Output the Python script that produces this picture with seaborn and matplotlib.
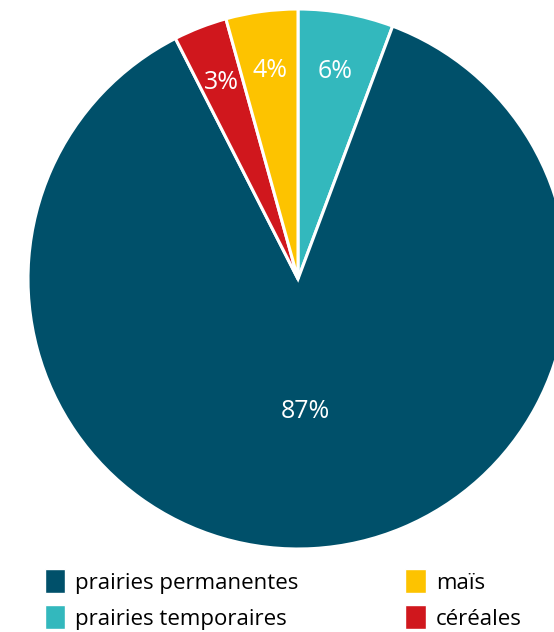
import matplotlib.pyplot as plt
import seaborn as sns
from matplotlib.patches import Patch

sns.set_theme(style="white")
plt.rcParams['font.family'] = ['Open Sans', 'DejaVu Sans']

# surfaces (%) - clockwise from top
categories = ["prairies temporaires", "prairies permanentes", "céréales", "maïs"]
values = [5.7, 86.8, 3.2, 4.3]
colors = ["#33b8bd", "#00506a", "#d0171d", "#fdc300"]
legend_order = ["prairies permanentes", "prairies temporaires", "maïs", "céréales"]

W, H = 554, 632
cx, cy, r = 298, 279, 270

fig = plt.figure(figsize=(W / 100, H / 100), dpi=100)
ax = fig.add_axes([0, 0, 1, 1])
ax.axis("off")

wedges, texts, autotexts = ax.pie(
    values, colors=colors, startangle=90, counterclock=False,
    autopct="%.0f%%", pctdistance=0.78,
    wedgeprops=dict(edgecolor="white", linewidth=2.2),
    textprops=dict(color="white", fontsize=18),
)
ax.set_xlim(-cx / r, (W - cx) / r)
ax.set_ylim((cy - H) / r, cy / r)

# big slice label closer to the centre
x, y = autotexts[1].get_position()
autotexts[1].set_position((x * 0.49 / 0.78, y * 0.49 / 0.78))

handles = [Patch(facecolor=colors[categories.index(c)], label=c) for c in legend_order]
fig.legend(handles=handles, loc="lower left", bbox_to_anchor=(45 / W, 2 / H),
           ncol=2, frameon=False, fontsize=16, handlelength=0.92, handleheight=1.0,
           handletextpad=0.45, columnspacing=4.8, labelspacing=0.6,
           borderpad=0, borderaxespad=0, labelcolor="black")
for p in fig.legends[0].get_patches():
    p.set_height(p.get_height() * 1.2)
    p.set_y(p.get_y() - p.get_height() * 0.08)

fig.savefig("out.png", dpi=100)
